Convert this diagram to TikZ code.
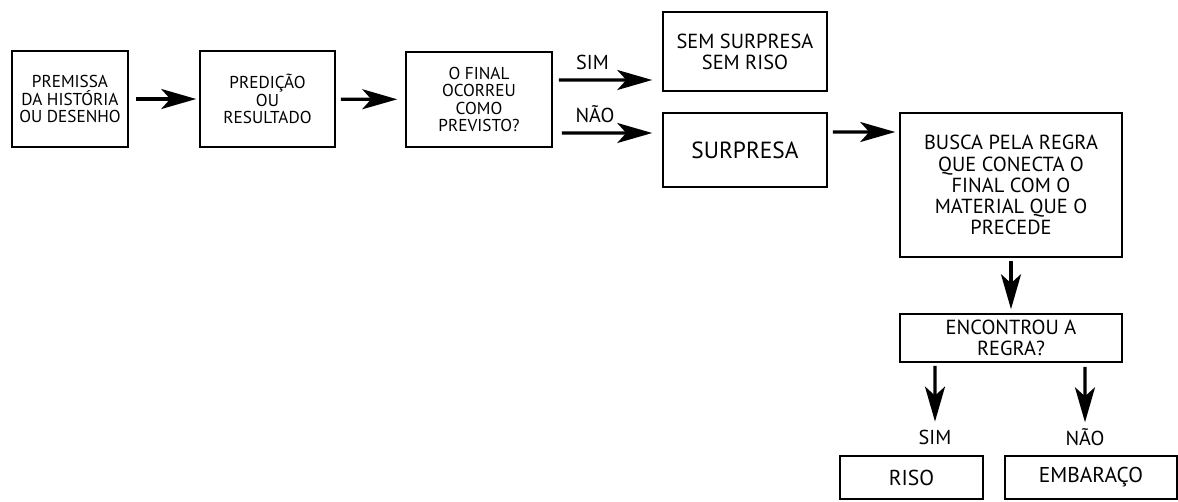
\documentclass[tikz,border=0pt]{standalone}
\usepackage{fontspec}
\setmainfont{PT Sans}
\usetikzlibrary{arrows.meta}

\tikzset{
  box/.style={draw, line width=0.9pt, align=center, inner sep=2pt, font=\fontsize{9.8}{10}\selectfont},
  bigbox/.style={box, font=\fontsize{11.6}{12}\selectfont},
  arr/.style={line width=1.8pt, -{Stealth[length=7mm,width=4mm,inset=1.8mm]}},
  lbl/.style={inner sep=1pt, font=\fontsize{11.5}{12}\selectfont}
}

\begin{document}
\begin{tikzpicture}[x=0.02cm, y=-0.02cm]
  \useasboundingbox (0,0) rectangle (1178,501);
  % main line
  \node (premissa) at (70,99) [box, minimum width=2.32cm, minimum height=1.92cm] {PREMISSA\\DA HISTÓRIA\\OU DESENHO};
  \node (predicao) at (267.5,99) [box, minimum width=2.7cm, minimum height=1.92cm] {PREDIÇÃO\\OU\\RESULTADO};
  \node (final) at (479,99.5) [box, minimum width=2.92cm, minimum height=1.9cm] {O FINAL\\OCORREU\\COMO\\PREVISTO?};
  \node (semriso) at (745,51.5) [bigbox, minimum width=3.28cm, minimum height=1.58cm] {SEM SURPRESA\\SEM RISO};
  \node (surpresa) at (745,150) [box, font=\fontsize{13.3}{14}\selectfont, minimum width=3.28cm, minimum height=1.48cm] {SURPRESA};
  \node (busca) at (1011,185) [bigbox, minimum width=4.44cm, minimum height=2.88cm] {BUSCA PELA REGRA\\QUE CONECTA O\\FINAL COM O\\MATERIAL QUE O\\PRECEDE};
  \node (encontrou) at (1011,338) [bigbox, minimum width=4.44cm, minimum height=0.96cm] {ENCONTROU A\\REGRA?};
  % outcomes
  \node (simB) at (935,437) [lbl] {SIM};
  \node (naoB) at (1085,437) [lbl] {NÃO};
  \node (riso) at (911.5,477.5) [bigbox, font=\fontsize{12.3}{12}\selectfont, minimum width=2.86cm, minimum height=0.86cm] {RISO};
  \node (embaraco) at (1091,477.5) [bigbox, font=\fontsize{12.2}{12}\selectfont, minimum width=3.44cm, minimum height=0.86cm] {EMBARAÇO};

  \draw[arr, shorten <=0.14cm, shorten >=0.06cm] (premissa) -- (predicao);
  \draw[arr, shorten <=0.1cm, shorten >=0.16cm] (predicao) -- (final);
  \draw[arr, shorten <=0.12cm, shorten >=0.2cm] ([yshift=0.39cm]final.east) -- ([yshift=-0.57cm]semriso.west) node[lbl, midway, above=4pt, xshift=-0.3cm] {SIM};
  \draw[arr, shorten <=0.18cm, shorten >=0.2cm] ([yshift=-0.67cm]final.east) -- ([yshift=0.34cm]surpresa.west) node[lbl, midway, above=4pt, xshift=-0.25cm] {NÃO};
  \draw[arr, shorten <=0.1cm, shorten >=0.08cm] ([yshift=0.36cm]surpresa.east) -- ([yshift=1.06cm]busca.west);
  \draw[arr, shorten <=0.06cm, shorten >=0.08cm] (busca) -- (encontrou);
  \draw[arr, shorten <=0.06cm, shorten >=0.12cm] ([xshift=-1.52cm]encontrou.south) -- (simB);
  \draw[arr, shorten <=0.08cm, shorten >=0.08cm] ([xshift=1.48cm]encontrou.south) -- (naoB);
\end{tikzpicture}
\end{document}
